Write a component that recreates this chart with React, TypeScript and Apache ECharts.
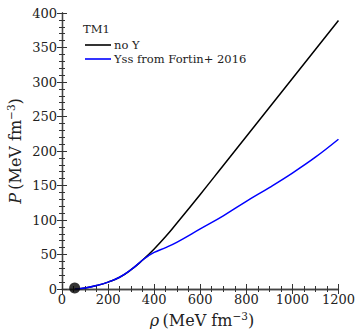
import React, { useEffect, useRef } from "react";
import * as echarts from "echarts";

const rhoNoY = [56, 100, 150, 200, 250, 300, 350, 400, 450, 500, 600, 700, 800, 900, 1000, 1100, 1200];
const pNoY = [0, 1.5, 5, 10, 17, 28, 42, 58, 76, 96, 137, 179, 221, 263, 305, 347, 389];
const rhoYss = [56, 100, 150, 200, 250, 300, 350, 375, 400, 450, 500, 600, 700, 800, 900, 1000, 1100, 1200];
const pYss = [0, 1.5, 5, 10, 17, 28, 42, 48, 53, 60, 68, 87, 106, 127, 147, 168, 191, 217];
const satPoint = [55, 1.5];
const seriesNames = ["no Y", "Yss from Fortin+ 2016"];
const legendTitle = "TM1";

const FONT = "DejaVu Serif";

export default function App() {
  const ref = useRef<HTMLDivElement>(null);
  useEffect(() => {
    const chart = echarts.init(ref.current!, null, { renderer: "svg" });
    const axisLineStyle = { color: "#444", width: 1.3 };
    const tickStyle = { color: "#333", width: 1 };
    const xCommon = {
      type: "value" as const,
      min: 0,
      max: 1200,
      interval: 200,
      splitLine: { show: false },
      axisLine: { show: true, lineStyle: axisLineStyle },
      axisTick: { show: true, inside: true, length: 5, lineStyle: tickStyle },
      minorTick: { show: true, splitNumber: 4, length: 3, lineStyle: tickStyle },
    };
    const yCommon = {
      type: "value" as const,
      min: 0,
      max: 400,
      interval: 50,
      splitLine: { show: false },
      axisLine: { show: true, lineStyle: axisLineStyle },
      axisTick: { show: true, inside: true, length: 5, lineStyle: tickStyle },
      minorTick: { show: true, splitNumber: 5, length: 3, lineStyle: tickStyle },
    };
    chart.setOption({
      animation: false,
      grid: { left: 62, right: 17, top: 13, bottom: 40 },
      xAxis: [
        {
          ...xCommon,
          position: "bottom",
          axisLabel: {
            fontFamily: FONT,
            fontSize: 13,
            color: "#222",
            margin: 4,
            formatter: (v: number) => String(v),
          },
        },
        { ...xCommon, position: "top", axisLabel: { show: false } },
      ],
      yAxis: [
        {
          ...yCommon,
          position: "left",
          axisLabel: {
            fontFamily: FONT,
            fontSize: 13,
            color: "#222",
            margin: 5,
            formatter: (v: number) => String(v),
          },
        },
        { ...yCommon, position: "right", axisLabel: { show: false } },
      ],
      legend: {
        orient: "vertical",
        left: 80,
        top: 34,
        itemGap: 2,
        itemWidth: 26,
        itemHeight: 12,
        textStyle: { fontFamily: FONT, fontSize: 11.5, color: "#222", padding: [0, 0, 0, -2] },
        data: seriesNames.map((n) => ({
          name: n,
          icon: "path://M0,5 L26,5 L26,6.6 L0,6.6 Z",
        })),
      },
      graphic: [
        {
          type: "text",
          left: 83,
          top: 23,
          style: { text: legendTitle, font: `11.5px "${FONT}"`, fill: "#222" },
        },
        {
          type: "text",
          x: 202,
          y: 320,
          style: {
            text: "{i|ρ} {n|(MeV fm}{s|−3}{n|)}",
            align: "center",
            verticalAlign: "middle",
            rich: {
              i: { fontFamily: FONT, fontStyle: "italic", fontSize: 16, fill: "#222" },
              n: { fontFamily: FONT, fontSize: 16, fill: "#222" },
              s: { fontFamily: FONT, fontSize: 10.5, fill: "#222", padding: [0, 0, 9, 0] },
            },
          },
        },
        {
          type: "text",
          x: 15,
          y: 151,
          rotation: Math.PI / 2,
          style: {
            text: "{i|P} {n|(MeV fm}{s|−3}{n|)}",
            align: "center",
            verticalAlign: "middle",
            rich: {
              i: { fontFamily: FONT, fontStyle: "italic", fontSize: 16, fill: "#222" },
              n: { fontFamily: FONT, fontSize: 16, fill: "#222" },
              s: { fontFamily: FONT, fontSize: 10.5, fill: "#222", padding: [0, 0, 9, 0] },
            },
          },
        },
      ],
      series: [
        {
          name: seriesNames[0],
          type: "line",
          smooth: 0.5,
          showSymbol: false,
          data: rhoNoY.map((r, i) => [r, pNoY[i]]),
          lineStyle: { color: "#000", width: 1.5 },
          itemStyle: { color: "#000" },
          z: 3,
        },
        {
          name: seriesNames[1],
          type: "line",
          smooth: 0.4,
          showSymbol: false,
          data: rhoYss.map((r, i) => [r, pYss[i]]),
          lineStyle: { color: "#0000ff", width: 1.5 },
          itemStyle: { color: "#0000ff" },
          z: 4,
        },
        {
          type: "scatter",
          data: [satPoint],
          symbolSize: 11,
          itemStyle: { color: "#000" },
          clip: true,
          z: 5,
        },
      ],
    });
    return () => chart.dispose();
  }, []);
  return <div ref={ref} style={{ width: 358, height: 329, position: "absolute", left: 0, top: 0 }} />;
}
